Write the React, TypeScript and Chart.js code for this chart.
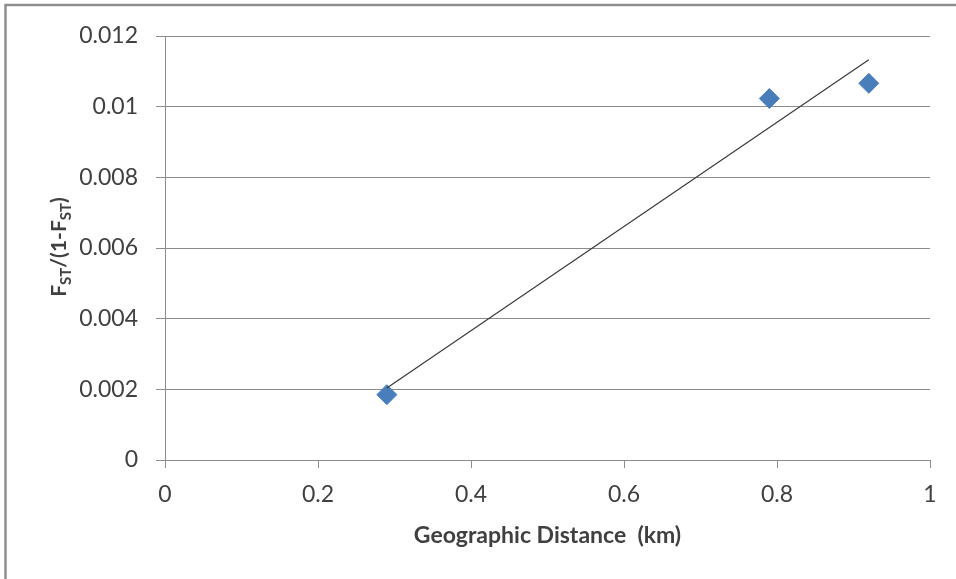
import React, { useEffect, useRef } from "react";
import { Chart, registerables } from "chart.js";

Chart.register(...registerables);

// Data
const pointX = [0.29, 0.79, 0.92];
const pointY = [0.00185, 0.01023, 0.01066];
const trendX = [0.29, 0.92];
const trendY = [0.00204, 0.01133];
const xTicks = [0, 0.2, 0.4, 0.6, 0.8, 1];
const yTicks = [0, 0.002, 0.004, 0.006, 0.008, 0.01, 0.012];
const xTitle = "Geographic Distance  (km)";
const yTitleParts = [
  { t: "F", sub: false },
  { t: "ST", sub: true },
  { t: "/(1-F", sub: false },
  { t: "ST", sub: true },
  { t: ")", sub: false },
];

const GRID = "#8c8c8c";
const TEXT = "#404040";
const FONT = "Lato, 'Open Sans', sans-serif";

const decorPlugin = {
  id: "decor",
  afterDraw(chart: any) {
    const ctx = chart.ctx as CanvasRenderingContext2D;
    const area = chart.chartArea;
    ctx.save();
    // outer frame (left & top)
    ctx.strokeStyle = "#8e8e8e";
    ctx.lineWidth = 2.5;
    ctx.beginPath();
    ctx.moveTo(5.5, 579);
    ctx.lineTo(5.5, 5);
    ctx.lineTo(956, 5);
    ctx.stroke();

    // x title
    ctx.fillStyle = TEXT;
    ctx.font = `bold 23px ${FONT}`;
    ctx.textAlign = "center";
    ctx.textBaseline = "middle";
    ctx.fillText(xTitle, (area.left + area.right) / 2, 536);

    // y title with subscripts
    const mainFont = `bold 21px ${FONT}`;
    const subFont = `bold 15px ${FONT}`;
    let W = 0;
    const widths = yTitleParts.map((p) => {
      ctx.font = p.sub ? subFont : mainFont;
      const w = ctx.measureText(p.t).width;
      W += w;
      return w;
    });
    ctx.translate(66, 247);
    ctx.rotate(-Math.PI / 2);
    ctx.textAlign = "left";
    ctx.textBaseline = "alphabetic";
    let x = -W / 2;
    yTitleParts.forEach((p, i) => {
      ctx.font = p.sub ? subFont : mainFont;
      ctx.fillText(p.t, x, p.sub ? 5 : 0);
      x += widths[i];
    });
    ctx.restore();
  },
};

export default function App() {
  const ref = useRef<HTMLCanvasElement>(null);
  useEffect(() => {
    document.body.style.margin = "0";
    const canvas = ref.current!;
    const chart = new Chart(canvas, {
      type: "scatter",
      data: {
        datasets: [
          {
            label: "points",
            data: pointX.map((x, i) => ({ x, y: pointY[i] })),
            pointStyle: "rectRot",
            pointRadius: 10,
            pointHoverRadius: 10,
            backgroundColor: "#4a7ebb",
            borderColor: "#4a7ebb",
            borderWidth: 1,
            order: 1,
          },
          {
            label: "trend",
            data: trendX.map((x, i) => ({ x, y: trendY[i] })),
            showLine: true,
            pointRadius: 0,
            borderColor: "#3a3a3a",
            borderWidth: 1.2,
            backgroundColor: "transparent",
            order: 0,
          },
        ],
      },
      options: {
        animation: false,
        responsive: false,
        devicePixelRatio: 1,
        layout: { padding: { left: 0, top: 36, right: 26, bottom: 0 } },
        plugins: {
          legend: { display: false },
          tooltip: { enabled: false },
          title: { display: false },
        },
        scales: {
          x: {
            type: "linear",
            min: 0,
            max: 1,
            afterBuildTicks: (s: any) => {
              s.ticks = xTicks.map((v) => ({ value: v }));
            },
            afterFit: (s: any) => {
              s.height = 579 - 460;
            },
            grid: {
              drawOnChartArea: false,
              drawTicks: true,
              tickLength: 8,
              color: GRID,
              lineWidth: 1,
            },
            border: { display: true, color: GRID, width: 1 },
            ticks: {
              color: TEXT,
              font: { family: FONT, size: 23 },
              padding: 13,
              maxRotation: 0,
              callback: (v: any) => String(Number(Number(v).toFixed(1))),
            },
          },
          y: {
            type: "linear",
            min: 0,
            max: 0.012,
            afterBuildTicks: (s: any) => {
              s.ticks = yTicks.map((v) => ({ value: v }));
            },
            afterFit: (s: any) => {
              s.width = 165;
            },
            grid: {
              drawOnChartArea: true,
              drawTicks: true,
              tickLength: 9,
              color: GRID,
              lineWidth: 1,
            },
            border: { display: true, color: GRID, width: 1 },
            ticks: {
              color: TEXT,
              font: { family: FONT, size: 23 },
              padding: 18,
              callback: (v: any) => String(Number(Number(v).toFixed(3))),
            },
          },
        },
      },
      plugins: [decorPlugin],
    } as any);
    return () => chart.destroy();
  }, []);
  return (
    <canvas
      ref={ref}
      width={956}
      height={579}
      style={{ display: "block", width: 956, height: 579, background: "#fff" }}
    />
  );
}
